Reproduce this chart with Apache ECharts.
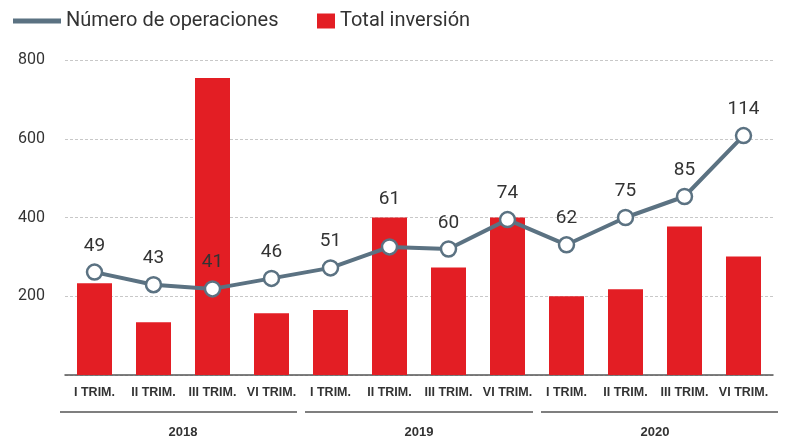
<!DOCTYPE html>
<html><head><meta charset="utf-8">
<script src="https://cdn.jsdelivr.net/npm/echarts@6/dist/echarts.min.js"></script>
<style>html,body{margin:0;padding:0;background:#fff}#c{width:798px;height:441px}</style>
</head><body><div id="c"></div>
<script>
var categories = ["I TRIM.","II TRIM.","III TRIM.","VI TRIM.","I TRIM.","II TRIM.","III TRIM.","VI TRIM.","I TRIM.","II TRIM.","III TRIM.","VI TRIM."];
var years = ["2018","2019","2020"];
var inversion = [233,134,754,157,165,400,273,400,200,218,377,301];
var operaciones = [49,43,41,46,51,61,60,74,62,75,85,114];
var yTicks = [200,400,600,800];

var lineColor = '#5b7282';
var lineData = operaciones.map(function(v,i){
  return i===5 ? {value:v,label:{distance:29}} : v;
});

var chart = echarts.init(document.getElementById('c'));
var option = {
  animation:false,
  legend:[
    {left:8,top:6,itemGap:8,textStyle:{fontFamily:'Roboto',fontSize:20,color:'#333'},
     data:[{name:'Número de operaciones',icon:'rect',itemStyle:{color:lineColor,borderWidth:0}}],
     itemWidth:48,itemHeight:5},
    {left:312,top:6,textStyle:{fontFamily:'Roboto',fontSize:20,color:'#333'},
     data:[{name:'Total inversión',icon:'rect',itemStyle:{color:'#e31e24'}}],itemWidth:18,itemHeight:15}
  ],
  grid:{left:65,right:25,top:60,bottom:66},
  xAxis:[{type:'category',data:categories,axisLine:{lineStyle:{color:'#555',width:1.5}},axisTick:{show:false},
    axisLabel:{interval:0,margin:11,fontFamily:'Liberation Sans Narrow, Arial',fontWeight:'bold',fontSize:12.5,color:'#333'}}],
  yAxis:[{type:'value',min:0,max:800,interval:200,
    axisLabel:{formatter:function(v){return v===0?'':v;},fontFamily:'Roboto',fontSize:16,color:'#333',margin:20},
    axisLine:{show:false},axisTick:{show:false},
    splitLine:{lineStyle:{type:[3,2],color:'#c8c8c8',width:1}}},
    {type:'value',min:0,max:150,show:false,splitLine:{show:false}}],
  series:[
    {name:'Total inversión',type:'bar',data:inversion,barWidth:35,itemStyle:{color:'#e31e24'}},
    {name:'Número de operaciones',type:'line',yAxisIndex:1,data:lineData,
     lineStyle:{color:lineColor,width:4},itemStyle:{color:'#fff',borderColor:lineColor,borderWidth:2.5},
     symbol:'circle',symbolSize:15,
     label:{show:true,position:'top',distance:8,fontFamily:'Roboto',fontSize:19,color:'#333'}}
  ]
};
chart.setOption(option);

var graphics = [];
for (var g=0; g<years.length; g++){
  var x0 = chart.convertToPixel({xAxisIndex:0}, g*4);
  var x1 = chart.convertToPixel({xAxisIndex:0}, g*4+3);
  var half = (chart.convertToPixel({xAxisIndex:0},1)-chart.convertToPixel({xAxisIndex:0},0))/2;
  var l = x0-half+(g===0?-5:4), r = x1+half-(g===2?-5:4);
  graphics.push({type:'line',shape:{x1:l,y1:412,x2:r,y2:412},style:{stroke:'#555',lineWidth:1.5}});
  graphics.push({type:'text',x:(x0+x1)/2,y:432,style:{text:years[g],textAlign:'center',textVerticalAlign:'middle',
    font:'bold 13px "Liberation Sans Narrow", Arial',fill:'#333'}});
}
chart.setOption({graphic:graphics});
</script></body></html>
